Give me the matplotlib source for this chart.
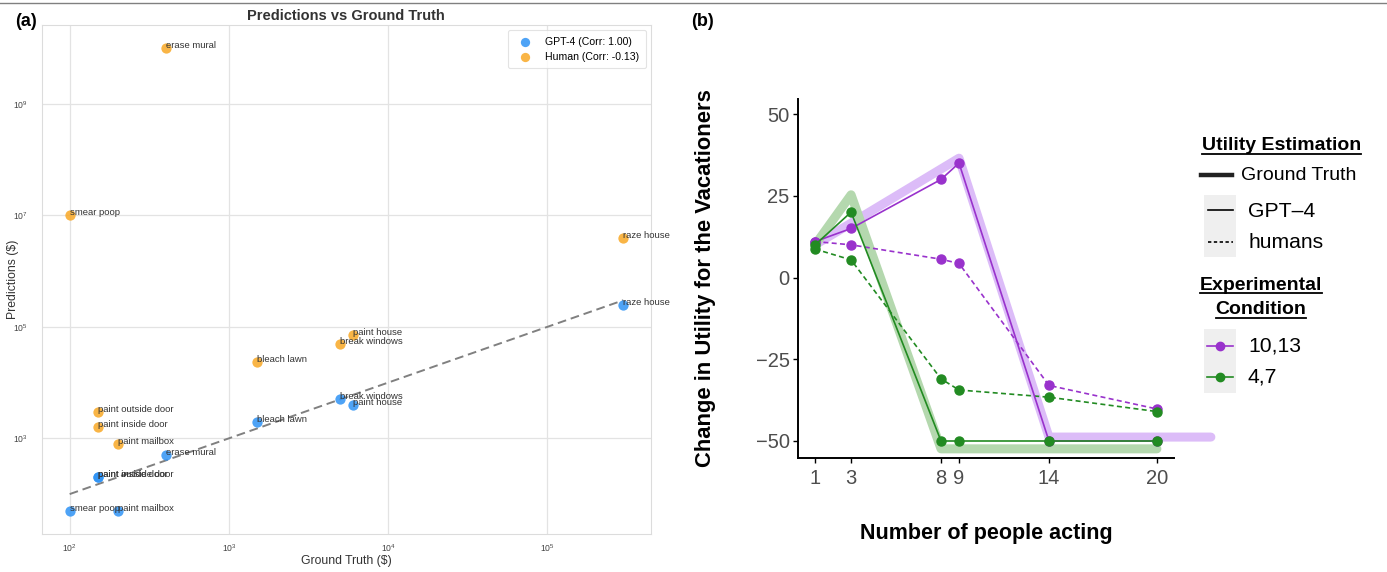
"""Predictions vs ground truth (a) and utility estimates by group size (b)."""

import matplotlib

matplotlib.use("Agg")
import matplotlib.pyplot as plt
from matplotlib.lines import Line2D
from matplotlib.patches import Rectangle

plt.rcParams["font.family"] = ["Liberation Sans", "DejaVu Sans"]

W, H = 1387, 572

# panel (a): dollar estimates per action
ACTIONS = ["erase mural", "smear poop", "raze house", "paint house", "break windows",
           "bleach lawn", "paint outside door", "paint inside door", "paint mailbox"]
GROUND_TRUTH = [400, 100, 3e5, 6000, 5000, 1500, 150, 150, 200]
GPT4_PRED = [500, 50, 2.5e5, 4000, 5000, 2000, 200, 200, 50]
HUMAN_PRED = [1e10, 1e7, 4e6, 7e4, 5e4, 2.3e4, 3000, 1600, 800]
GPT4_LABEL = "GPT-4 (Corr: 1.00)"
HUMAN_LABEL = "Human (Corr: -0.13)"
LOG_XTICKS = [1e2, 1e3, 1e4, 1e5]
LOG_YTICKS = [1e3, 1e5, 1e7, 1e9]

# panel (b): change in utility by number of people acting
PEOPLE = [1, 3, 8, 9, 14, 20]
GPT4_10_13 = [11, 15, 30, 35, -50, -50]
GPT4_4_7 = [10, 20, -50, -50, -50, -50]
HUMANS_10_13 = [11, 10, 5.6, 4.3, -33, -40.2]
HUMANS_4_7 = [8.7, 5.4, -31, -34.4, -36.6, -41]
GT_PEOPLE_10_13 = [1, 9, 14, 23]
GT_10_13 = [10, 36.5, -48.8, -48.8]
GT_PEOPLE_4_7 = [1, 3, 8, 20]
GT_4_7 = [10, 25.3, -52.4, -52.4]
UTILITY_TICKS = [-50, -25, 0, 25, 50]

BLUE = "#2f93f5"
ORANGE = "#f9a825"
PURPLE = "#9932cc"
GREEN = "#228b22"
PURPLE_GT = "#dcbcf8"
GREEN_GT = "#b4d8ae"


def px(x, y):
    return x / W, 1 - y / H


def axes_rect(left, top, right, bottom):
    return [left / W, 1 - bottom / H, (right - left) / W, (bottom - top) / H]


def plot_predictions(fig):
    ax = fig.add_axes(axes_rect(42, 25, 651, 534))
    ax.set_xscale("log")
    ax.set_yscale("log")
    ax.grid(True, color="#e3e3e3", lw=0.9, zorder=0)
    for spine in ax.spines.values():
        spine.set_color("#dcdcdc")
    ax.scatter(GROUND_TRUTH, GPT4_PRED, s=55, color=BLUE, alpha=0.85, lw=0, label=GPT4_LABEL, zorder=3)
    ax.scatter(GROUND_TRUTH, HUMAN_PRED, s=55, color=ORANGE, alpha=0.85, lw=0, label=HUMAN_LABEL, zorder=3)
    lo, hi = min(GROUND_TRUTH), max(GROUND_TRUTH)
    ax.plot([lo, hi], [lo, hi], ls=(0, (4.5, 2.5)), color="#808080", lw=1.4, zorder=2)
    for name, gt, gpt, hum in zip(ACTIONS, GROUND_TRUTH, GPT4_PRED, HUMAN_PRED):
        ax.text(gt, gpt, name, fontsize=6.8, color="#333333", zorder=4)
        ax.text(gt, hum, name, fontsize=6.8, color="#333333", zorder=4)
    ax.set_xticks(LOG_XTICKS)
    ax.set_yticks(LOG_YTICKS)
    ax.minorticks_off()
    ax.tick_params(length=0, labelsize=6.2, labelcolor="#444444")
    ax.tick_params(axis="y", pad=10)
    ax.tick_params(axis="x", pad=6)
    ax.set_xlabel("Ground Truth ($)", fontsize=8.8, color="#333333", va="center")
    ax.set_ylabel("Predictions ($)", fontsize=8.8, color="#333333", va="center")
    ax.xaxis.set_label_coords(0.5, (534 - 561) / 509)
    ax.yaxis.set_label_coords((13 - 42) / 609, 0.5)
    leg = ax.legend(loc="upper right", fontsize=7.6, frameon=True, borderpad=0.6,
                    handletextpad=0.9, markerscale=0.9)
    leg.get_frame().set_edgecolor("#dcdcdc")
    leg.get_frame().set_linewidth(0.8)
    fig.text(*px(346, 16), "Predictions vs Ground Truth", fontsize=10.5, weight="bold",
             color="#333333", ha="center", va="center")


def plot_utility(fig):
    ax = fig.add_axes(axes_rect(798, 99, 1174, 458))
    ax.plot(GT_PEOPLE_10_13, GT_10_13, color=PURPLE_GT, lw=6.5, solid_joinstyle="round",
            solid_capstyle="round", clip_on=False, zorder=1)
    ax.plot(GT_PEOPLE_4_7, GT_4_7, color=GREEN_GT, lw=6.5, solid_joinstyle="round",
            solid_capstyle="round", clip_on=False, zorder=1)
    dash = (0, (3, 2))
    ax.plot(PEOPLE, HUMANS_10_13, color=PURPLE, lw=1.2, ls=dash, marker="o", ms=6.5, zorder=3)
    ax.plot(PEOPLE, HUMANS_4_7, color=GREEN, lw=1.2, ls=dash, marker="o", ms=6.5, zorder=3)
    ax.plot(PEOPLE, GPT4_10_13, color=PURPLE, lw=1.2, marker="o", ms=6.5, zorder=4)
    ax.plot(PEOPLE, GPT4_4_7, color=GREEN, lw=1.2, marker="o", ms=6.5, zorder=4)
    ax.set_xlim(0.05, 20.95)
    ax.set_ylim(-55.2, 54.6)
    ax.set_xticks(PEOPLE)
    ax.set_yticks(UTILITY_TICKS)
    ax.spines[["top", "right"]].set_visible(False)
    for side in ("left", "bottom"):
        ax.spines[side].set_linewidth(1.4)
    ax.tick_params(length=3.6, width=1.0, labelsize=14.5, labelcolor="#4d4d4d", pad=2.5)
    ax.tick_params(axis="x", pad=4)
    ax.set_xlabel("Number of people acting", fontsize=15.5, weight="bold", va="center")
    ax.set_ylabel("Change in Utility for the Vacationers", fontsize=15.8, weight="bold", va="center")
    ax.xaxis.set_label_coords(0.5, (458 - 533) / 359)
    ax.yaxis.set_label_coords((705 - 798) / 376, 0.5)


def underline(fig, text, y):
    renderer = fig.canvas.get_renderer()
    bb = text.get_window_extent(renderer)
    fig.add_artist(Line2D([bb.x0 / W, bb.x1 / W], [1 - y / H] * 2, color="black", lw=1.3))


def draw_legend(fig):
    title = fig.text(*px(1202, 146), "Utility Estimation", fontsize=14, weight="bold", va="center")
    underline(fig, title, 154)
    fig.add_artist(Line2D(*zip(px(1201, 175), px(1232, 175)), color="#222222", lw=3.2))
    fig.text(*px(1241, 175), "Ground Truth", fontsize=14, va="center")
    fig.add_artist(Rectangle(px(1204, 257), 32 / W, 62 / H, transform=fig.transFigure,
                             color="#efefef", lw=0))
    fig.add_artist(Line2D(*zip(px(1208, 210), px(1233, 210)), color="black", lw=1.2))
    fig.text(*px(1248, 211), "GPT\u20134", fontsize=15.2, va="center")
    fig.add_artist(Line2D(*zip(px(1208, 242), px(1233, 242)), color="black", lw=1.2, ls=(0, (2, 1.5))))
    fig.text(*px(1248, 242), "humans", fontsize=15.2, va="center")

    exp = fig.text(*px(1261, 285), "Experimental", fontsize=14, weight="bold", ha="center", va="center")
    underline(fig, exp, 293)
    cond = fig.text(*px(1261, 309), "Condition", fontsize=14, weight="bold", ha="center", va="center")
    underline(fig, cond, 317.5)
    fig.add_artist(Rectangle(px(1204, 393), 32 / W, 64 / H, transform=fig.transFigure,
                             color="#efefef", lw=0))
    for y, color, label in ((346, PURPLE, "10,13"), (377, GREEN, "4,7")):
        fig.add_artist(Line2D(*zip(px(1207, y), px(1233, y)), color=color, lw=1.2))
        fig.add_artist(Line2D([1220 / W], [1 - y / H], color=color, marker="o", ms=6))
        fig.text(*px(1248, y), label, fontsize=15.2, va="center")


def main():
    fig = plt.figure(figsize=(W / 100, H / 100), dpi=100)
    fig.add_artist(Line2D([0, 1], [1 - 3.3 / H] * 2, color="#808080", lw=1.0))
    plot_predictions(fig)
    plot_utility(fig)
    draw_legend(fig)
    fig.text(*px(26, 22), "(a)", fontsize=13, weight="bold", ha="center", va="center")
    fig.text(*px(703, 22), "(b)", fontsize=13, weight="bold", ha="center", va="center")
    fig.savefig("out.png", dpi=100)


if __name__ == "__main__":
    main()
